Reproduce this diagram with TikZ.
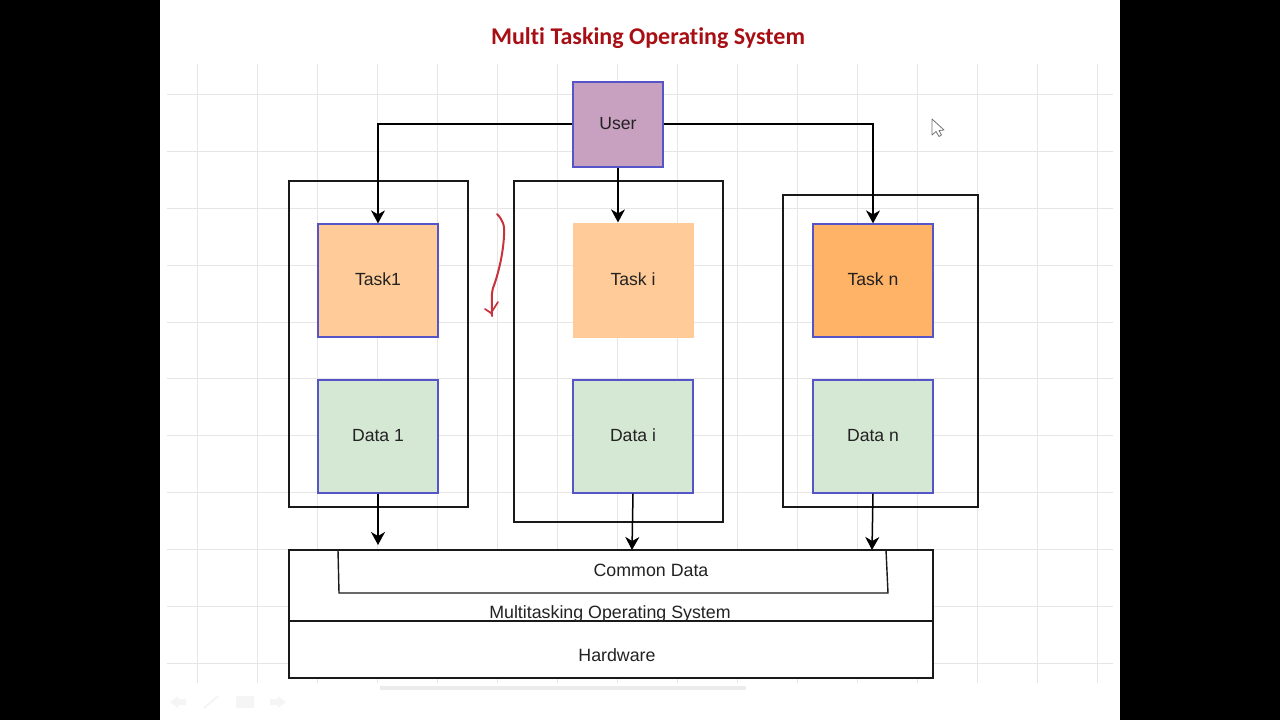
\documentclass[tikz,border=0pt]{standalone}
\usepackage{fontspec}
\setmainfont{Liberation Sans}
\newfontfamily\titlefont[Ligatures=NoCommon,Contextuals=NoAlternate]{Carlito}
\usetikzlibrary{arrows.meta,calc}
\definecolor{gridc}{HTML}{E6E6E6}
\definecolor{edgeb}{HTML}{5555C8}
\definecolor{userc}{HTML}{C8A0C0}
\definecolor{taskc}{HTML}{FFCC99}
\definecolor{tasknc}{HTML}{FFB366}
\definecolor{datac}{HTML}{D5E8D4}
\definecolor{titlec}{HTML}{A80F14}
\definecolor{inkred}{HTML}{C8323C}
\definecolor{txt}{HTML}{222222}
\tikzset{
  x=1pt,y=-1pt,
  box/.style={draw=edgeb,line width=1.2pt,minimum width=#1,inner sep=0pt,text=txt,text height=10pt,text depth=0pt,font=\fontsize{17.6}{20}\selectfont},
  taskbox/.style={box=120pt,minimum height=113pt,fill=taskc},
  databox/.style={box=120pt,minimum height=113pt,fill=datac},
  frame/.style={draw=black!90,line width=1.4pt},
  layer/.style={draw=black!90,line width=1.4pt,fill=white,outer sep=0pt,inner sep=0pt},
  label/.style={text=txt,font=\fontsize{17.8}{20}\selectfont,inner sep=0pt},
  conn/.style={draw=black,line width=1.5pt,-{Stealth[length=13pt,width=14pt,inset=4pt]}},
  gridline/.style={draw=gridc,line width=1pt}
}
\begin{document}
\begin{tikzpicture}
\useasboundingbox (0,0) rectangle (1280,720);
\fill[white] (0,0) rectangle (1280,720);
\fill[black] (0,0) rectangle (160,720);
\fill[black] (1120,0) rectangle (1280,720);
% grid
\foreach \gx in {197,257,...,1097} \draw[gridline] (\gx,64) -- (\gx,683);
\foreach \gy in {94,151,208,265,322,378,435,492,549,606,663} \draw[gridline] (167,\gy) -- (1113,\gy);
\node[font=\titlefont\bfseries\fontsize{24}{28}\selectfont,text=titlec,inner sep=0pt] (title) at (648,38) {Multi Tasking Operating System};
% containers
\draw[frame] (288.9,181) rectangle (468,507);
\draw[frame] (513.9,181) rectangle (723,522);
\draw[frame] (783,195) rectangle (978,507);
% nodes
\node[box=90pt,minimum height=85pt,fill=userc] (user) at (618,124.5) {User};
\node[taskbox] (task1) at (378,280.5) {Task1};
\node[taskbox,draw=none,minimum height=115pt,minimum width=121pt] (taski) at (633,280.5) {Task i};
\node[taskbox,fill=tasknc] (taskn) at (873,280.5) {Task n};
\node[databox] (data1) at (378,436.5) {Data 1};
\node[databox] (datai) at (633,436.5) {Data i};
\node[databox] (datan) at (873,436.5) {Data n};
% bottom layers
\node[layer,minimum width=644.2pt,minimum height=71pt,anchor=north west] (os) at (288.9,550) {};
\node[layer,minimum width=644.2pt,minimum height=57pt,anchor=north west] (hw) at (288.9,621) {};
\draw[frame] (338,550) -- (339,593) -- (888,593) -- (886,550);
\node[label] (common) at (651,570) {Common Data};
\node[label] (mos) at (610,614) {Multitasking Operating System};
\node[label] (hwl) at (617,655) {Hardware};
% connectors
\coordinate (d1end) at (378,545);
\coordinate (diend) at (632,550);
\coordinate (dnend) at (872,550);
\draw[conn] (user.west |- 0,124) -| (task1.north);
\draw[conn] (user.east |- 0,124) -| (taskn.north);
\draw[conn] (user.south) -- (user.south |- taski.north);
\draw[conn] (data1.south) -- (d1end);
\draw[conn] (datai.south) -- (diend);
\draw[conn] (datan.south) -- (dnend);
% red pen stroke
\draw[inkred,line width=2pt,line cap=round,line join=round]
  (497,214) .. controls (503,220) and (505,226) .. (504,236)
  .. controls (503,255) and (498,275) .. (493,288)
  .. controls (491,295) and (492,305) .. (492,316);
\draw[inkred,line width=1.7pt,line cap=round] (485,309) -- (491,313) -- (498,302);
% mouse pointer
\draw[black!55,fill=white,line width=.8pt,line join=round]
  (932,119) -- (932,135) -- (936,131.5) -- (939,136.5) -- (941.5,135) -- (939,130.5) -- (944,130) -- cycle;
% faint slide-show controls and scroll bar
\fill[black!8] (380,686) rectangle (746,690);
\fill[black!4] (170,702) -- (178,696) -- (178,699) -- (186,699) -- (186,705) -- (178,705) -- (178,708) -- cycle;
\draw[black!4,line width=2pt] (204,708) -- (218,696);
\fill[black!4] (236,696) rectangle (254,708);
\fill[black!4] (286,702) -- (278,696) -- (278,699) -- (270,699) -- (270,705) -- (278,705) -- (278,708) -- cycle;
\end{tikzpicture}
\end{document}
